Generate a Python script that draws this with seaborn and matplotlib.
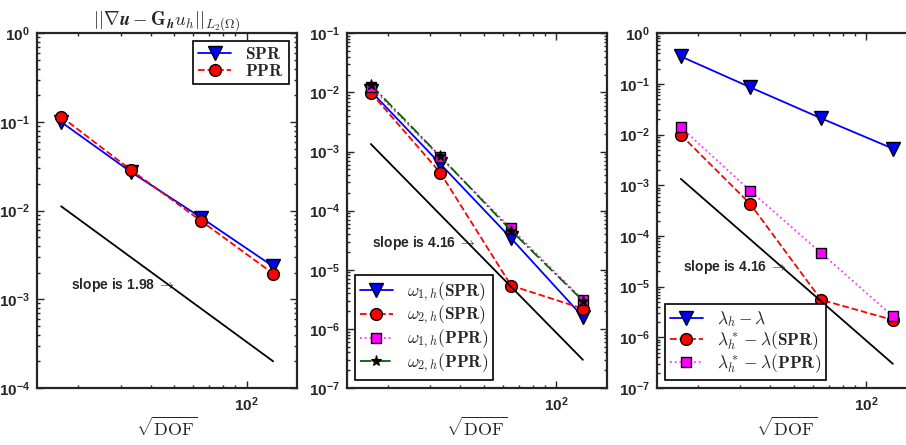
import numpy as np
import matplotlib
matplotlib.use("Agg")
import matplotlib.pyplot as plt
import matplotlib.ticker as mticker
import seaborn as sns

# sqrt(DOF) of the four meshes
sqrt_dof = [17, 33, 65, 129]

# left panel: gradient recovery error
grad_spr = [1.0e-1, 2.75e-2, 8.3e-3, 2.35e-3]
grad_ppr = [1.15e-1, 2.9e-2, 7.6e-3, 1.95e-3]
ref_grad = [1.12e-2, 2.0e-4]          # slope 1.98 guide line (first/last mesh)

# middle panel: recovered eigenvalue correction terms
w1_spr = [1.05e-2, 6.2e-4, 3.4e-5, 1.6e-6]
w2_spr = [9.9e-3, 4.4e-4, 5.4e-6, 2.2e-6]
w1_ppr = [1.25e-2, 8.0e-4, 5.0e-5, 3.1e-6]
w2_ppr = [1.35e-2, 8.3e-4, 4.6e-5, 3.0e-6]
ref_w = [1.34e-3, 3.0e-7]             # slope 4.16 guide line

# right panel: eigenvalue errors
lam = [3.5e-1, 8.6e-2, 2.1e-2, 5.3e-3]
lam_spr = [9.9e-3, 4.3e-4, 5.5e-6, 2.2e-6]
lam_ppr = [1.4e-2, 7.8e-4, 4.6e-5, 2.6e-6]
ref_lam = [1.34e-3, 3.0e-7]

sns.set_style("ticks")
plt.rcParams["font.family"] = ["Liberation Sans", "DejaVu Sans"]
plt.rcParams["mathtext.fontset"] = "cm"

fig = plt.figure(figsize=(9.06, 4.45), dpi=100)
W, H = 906.0, 445.0
lefts = [37, 346.7, 656.7]
axes = [fig.add_axes([l / W, (H - 388) / H, 260 / W, 354.7 / H]) for l in lefts]

blue = dict(color="#0000ff", marker="v", markersize=10, markerfacecolor="#0000ff",
            markeredgecolor="k", markeredgewidth=1.0, linewidth=1.3)
red = dict(color="#ff0000", marker="o", markersize=8.5, markerfacecolor="#ff0000",
           markeredgecolor="k", markeredgewidth=1.0, linewidth=1.3, linestyle="--")
mag = dict(color="#ff33ff", marker="s", markersize=6.5, markerfacecolor="#ff00ff",
           markeredgecolor="k", markeredgewidth=1.0, linewidth=1.3, linestyle=":")
grn = dict(color="#006400", marker="*", markersize=8, markerfacecolor="k",
           markeredgecolor="k", markeredgewidth=0.8, linewidth=1.3, linestyle="-.")

leg_kw = dict(handlelength=1.9, handletextpad=0.8, labelspacing=0.02,
              borderpad=0.3, borderaxespad=0.45, fontsize=12.5)

ax1, ax2, ax3 = axes

# left
sns.lineplot(x=sqrt_dof, y=grad_spr, ax=ax1, label=r"$\mathbf{SPR}$", **blue)
sns.lineplot(x=sqrt_dof, y=grad_ppr, ax=ax1, label=r"$\mathbf{PPR}$", **red)
sns.lineplot(x=[sqrt_dof[0], sqrt_dof[-1]], y=ref_grad, ax=ax1, color="k", linewidth=1.3)
ax1.set_ylim(1e-4, 1e0)
ax1.set_title(r"$||\boldsymbol{\nabla u} - \mathbf{G}_{\boldsymbol{h}}\boldsymbol{u_h}||_{L_2(\Omega)}$",
              fontsize=13.5, pad=5)
ax1.text(0.13, 0.29, r"slope is 1.98 $\rightarrow$", transform=ax1.transAxes,
         fontsize=10, fontweight="bold", va="center", math_fontfamily="cm")
ax1.legend(loc="upper right", **leg_kw)

# middle
sns.lineplot(x=sqrt_dof, y=w1_spr, ax=ax2, label=r"$\boldsymbol{\omega_{1,h}}(\mathbf{SPR})$", **blue)
sns.lineplot(x=sqrt_dof, y=w2_spr, ax=ax2, label=r"$\boldsymbol{\omega_{2,h}}(\mathbf{SPR})$", **red)
sns.lineplot(x=sqrt_dof, y=w1_ppr, ax=ax2, label=r"$\boldsymbol{\omega_{1,h}}(\mathbf{PPR})$", **mag)
sns.lineplot(x=sqrt_dof, y=w2_ppr, ax=ax2, label=r"$\boldsymbol{\omega_{2,h}}(\mathbf{PPR})$", **grn)
sns.lineplot(x=[sqrt_dof[0], sqrt_dof[-1]], y=ref_w, ax=ax2, color="k", linewidth=1.3)
ax2.set_ylim(1e-7, 1e-1)
ax2.text(0.096, 0.41, r"slope is 4.16 $\rightarrow$", transform=ax2.transAxes,
         fontsize=10, fontweight="bold", va="center", math_fontfamily="cm")
ax2.legend(loc="lower left", **leg_kw)

# right
sns.lineplot(x=sqrt_dof, y=lam, ax=ax3, label=r"$\boldsymbol{\lambda_h - \lambda}$", **blue)
sns.lineplot(x=sqrt_dof, y=lam_spr, ax=ax3, label=r"$\boldsymbol{\lambda_h^* - \lambda}(\mathbf{SPR})$", **red)
sns.lineplot(x=sqrt_dof, y=lam_ppr, ax=ax3, label=r"$\boldsymbol{\lambda_h^* - \lambda}(\mathbf{PPR})$", **mag)
sns.lineplot(x=[sqrt_dof[0], sqrt_dof[-1]], y=ref_lam, ax=ax3, color="k", linewidth=1.3)
ax3.set_ylim(1e-7, 1e0)
ax3.text(0.10, 0.342, r"slope is 4.16 $\rightarrow$", transform=ax3.transAxes,
         fontsize=10, fontweight="bold", va="center", math_fontfamily="cm")
ax3.legend(loc="lower left", **leg_kw)

for ax in axes:
    ax.set_xscale("log")
    ax.set_yscale("log")
    ax.set_xlim(13.5, 162)
    ax.xaxis.set_major_locator(mticker.LogLocator(base=10, numticks=10))
    ax.xaxis.set_minor_locator(mticker.LogLocator(base=10, subs=np.arange(2, 10), numticks=100))
    ax.xaxis.set_minor_formatter(mticker.NullFormatter())
    ax.yaxis.set_major_locator(mticker.LogLocator(base=10, numticks=20))
    ax.yaxis.set_minor_locator(mticker.LogLocator(base=10, subs=np.arange(2, 10), numticks=100))
    ax.yaxis.set_minor_formatter(mticker.NullFormatter())
    ax.tick_params(which="both", direction="in", top=True, right=True, width=1.0)
    ax.tick_params(which="major", length=5, labelsize=11, pad=5)
    ax.tick_params(which="minor", length=2.5)
    for lbl in ax.get_xticklabels() + ax.get_yticklabels():
        lbl.set_fontweight("bold")
    for sp in ax.spines.values():
        sp.set_linewidth(1.6)
        sp.set_visible(True)
    ax.set_xlabel(r"$\sqrt{\mathrm{DOF}}$", fontsize=13, labelpad=2)
    ax.set_ylabel("")
    leg = ax.get_legend()
    leg.get_frame().set_edgecolor("k")
    leg.get_frame().set_linewidth(1.2)
    leg.get_frame().set_boxstyle("square", pad=0.0)
    leg.get_frame().set_alpha(1)

fig.savefig("out.png", dpi=100)
